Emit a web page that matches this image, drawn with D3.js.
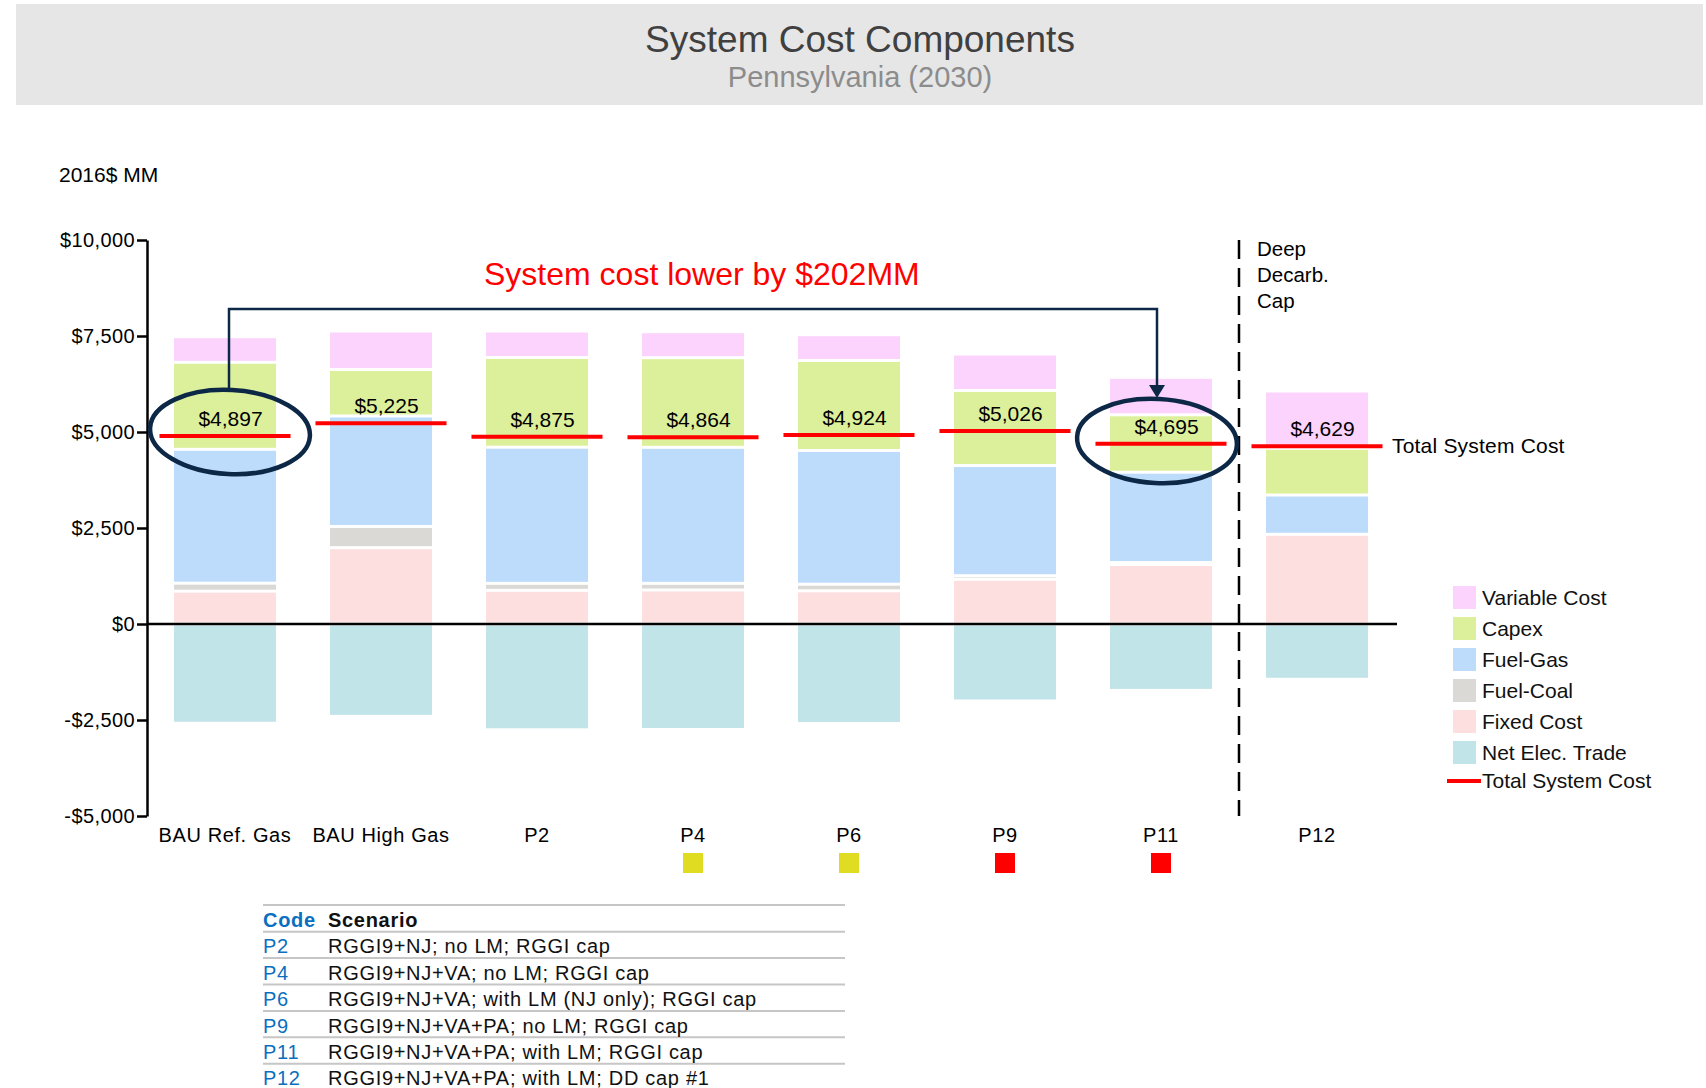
<!DOCTYPE html>
<html>
<head>
<meta charset="utf-8">
<script src="https://cdn.jsdelivr.net/npm/d3@7"></script>
<style>
  body { margin: 0; overflow: hidden; background: #fff; }
  svg { display: block; font-family: "Liberation Sans", Arial, sans-serif; }
</style>
</head>
<body>
<div id="chart"></div>
<script>
// Data (2016$ MM)
var categories = ["BAU Ref. Gas", "BAU High Gas", "P2", "P4", "P6", "P9", "P11", "P12"];
var fixedCost = [855, 1987, 877, 885, 864, 1164, 1550, 2336];
var fuelCoal = [208, 552, 182, 174, 173, 94, 50, 0];
var fuelGas = [3486, 2878, 3545, 3542, 3481, 2870, 2353, 1023];
var capex = [2266, 1211, 2336, 2334, 2344, 1953, 1495, 1216];
var variableCost = [667, 1002, 690, 677, 672, 950, 976, 1493];
var netElecTrade = [-2585, -2405, -2755, -2748, -2590, -2005, -1729, -1439];
var totalCost = [4897, 5225, 4875, 4864, 4924, 5026, 4695, 4629];
var yTicks = [-5000, -2500, 0, 2500, 5000, 7500, 10000];

// small markers under some scenarios
var markerCats = ["P4", "P6", "P9", "P11"];
var markerKinds = ["partial", "partial", "full", "full"];

// scenario table
var codes = ["P2", "P4", "P6", "P9", "P11", "P12"];
var scenarios = [
    "RGGI9+NJ; no LM; RGGI cap",
    "RGGI9+NJ+VA; no LM; RGGI cap",
    "RGGI9+NJ+VA; with LM (NJ only); RGGI cap",
    "RGGI9+NJ+VA+PA; no LM; RGGI cap",
    "RGGI9+NJ+VA+PA; with LM; RGGI cap",
    "RGGI9+NJ+VA+PA; with LM; DD cap #1"
];

var keys = ["fixed", "coal", "gas", "capex", "variable", "trade"];
var legendKeys = ["variable", "capex", "gas", "coal", "fixed", "trade"];
var legendNames = ["Variable Cost", "Capex", "Fuel-Gas", "Fuel-Coal", "Fixed Cost", "Net Elec. Trade"];
var colors = {
    variable: "#fcd3fc",
    capex: "#dcf09b",
    gas: "#bddcfc",
    coal: "#dad9d5",
    fixed: "#fddfdf",
    trade: "#c0e4e8"
};
var markerColor = { partial: "#e0dc22", full: "#ff0000" };
var navy = "#0d2847";

var rows = categories.map((c, i) => ({
    cat: c,
    fixed: fixedCost[i],
    coal: fuelCoal[i],
    gas: fuelGas[i],
    capex: capex[i],
    variable: variableCost[i],
    trade: netElecTrade[i]
}));

var svg = d3.select("#chart").append("svg")
    .attr("width", 1706)
    .attr("height", 1088);

// Header band
svg.append("rect")
    .attr("x", 16).attr("y", 4)
    .attr("width", 1687).attr("height", 101)
    .attr("fill", "#e6e6e6");
svg.append("text")
    .attr("x", 860).attr("y", 52)
    .attr("text-anchor", "middle")
    .attr("font-size", 37)
    .attr("fill", "#404040")
    .text("System Cost Components");
svg.append("text")
    .attr("x", 860).attr("y", 87)
    .attr("text-anchor", "middle")
    .attr("font-size", 29)
    .attr("fill", "#8c8c8c")
    .text("Pennsylvania (2030)");

// Scales
var x = d3.scaleBand()
    .domain(categories)
    .range([147, 1395])
    .paddingInner(0.346)
    .paddingOuter(0.173);
var y = d3.scaleLinear()
    .domain([-5000, 10000])
    .range([816, 240]);

var series = d3.stack()
    .keys(keys)
    .offset(d3.stackOffsetDiverging)(rows);

// Stacked bars, 3px white gap between segments
svg.append("g")
    .selectAll("g")
    .data(series)
    .enter().append("g")
    .attr("fill", s => colors[s.key])
    .selectAll("rect")
    .data(s => s)
    .enter().append("rect")
    .attr("x", d => x(d.data.cat))
    .attr("width", x.bandwidth())
    .attr("y", d => y(d[1]) + 1.5)
    .attr("height", d => Math.max(0, y(d[0]) - y(d[1]) - 3));

// Y axis
var money = d3.format(",");
var yAxis = d3.axisLeft(y)
    .tickValues(yTicks)
    .tickSize(10)
    .tickSizeOuter(0)
    .tickPadding(2)
    .tickFormat(v => (v < 0 ? "-$" : "$") + money(Math.abs(v)));
var ax = svg.append("g")
    .attr("transform", "translate(147,0)")
    .call(yAxis);
ax.selectAll("path, line").attr("stroke", "#000").attr("stroke-width", 2.5);
ax.selectAll("text")
    .attr("font-size", 20)
    .attr("letter-spacing", 0.4)
    .attr("fill", "#000")
    .attr("font-family", "Liberation Sans, Arial, sans-serif");

svg.append("text")
    .attr("x", 59).attr("y", 182)
    .attr("font-size", 21)
    .text("2016$ MM");

// zero line
svg.append("line")
    .attr("x1", 147).attr("x2", 1397)
    .attr("y1", y(0)).attr("y2", y(0))
    .attr("stroke", "#000")
    .attr("stroke-width", 2.5);

// Category labels
svg.append("g")
    .selectAll("text")
    .data(categories)
    .enter().append("text")
    .attr("x", d => x(d) + x.bandwidth() / 2)
    .attr("y", 842)
    .attr("text-anchor", "middle")
    .attr("font-size", 20)
    .attr("letter-spacing", 0.6)
    .text(d => d);

// Markers below categories
svg.append("g")
    .selectAll("rect")
    .data(markerCats)
    .enter().append("rect")
    .attr("x", d => x(d) + x.bandwidth() / 2 - 10)
    .attr("y", 853)
    .attr("width", 20)
    .attr("height", 20)
    .attr("fill", (d, i) => markerColor[markerKinds[i]]);

// Deep decarb separator
var sepX = (x("P11") + x.bandwidth() + x("P12")) / 2;
svg.append("line")
    .attr("x1", sepX).attr("x2", sepX)
    .attr("y1", 240).attr("y2", 816)
    .attr("stroke", "#000")
    .attr("stroke-width", 2.5)
    .attr("stroke-dasharray", "19,9");
svg.append("text")
    .attr("x", sepX + 18).attr("y", 256)
    .attr("font-size", 20.5)
    .selectAll("tspan")
    .data(["Deep", "Decarb.", "Cap"])
    .enter().append("tspan")
    .attr("x", sepX + 18)
    .attr("dy", (d, i) => i ? 26 : 0)
    .text(d => d);

// Total system cost lines + labels
var totals = svg.append("g");
totals.selectAll("line")
    .data(totalCost)
    .enter().append("line")
    .attr("x1", (d, i) => x(categories[i]) - 14.5)
    .attr("x2", (d, i) => x(categories[i]) + x.bandwidth() + 14.5)
    .attr("y1", d => y(d))
    .attr("y2", d => y(d))
    .attr("stroke", "#ff0000")
    .attr("stroke-width", 4);
totals.selectAll("text")
    .data(totalCost)
    .enter().append("text")
    .attr("x", (d, i) => x(categories[i]) + x.bandwidth() / 2 + 5.5)
    .attr("y", d => y(d) - 10)
    .attr("text-anchor", "middle")
    .attr("font-size", 21)
    .text(d => "$" + money(d));

var lastCat = categories[categories.length - 1];
svg.append("text")
    .attr("x", x(lastCat) + x.bandwidth() + 24)
    .attr("y", y(totalCost[totalCost.length - 1]) + 7)
    .attr("font-size", 21)
    .attr("letter-spacing", 0.2)
    .text("Total System Cost");

// Annotation: connector, arrow, circles
var c0 = x(categories[0]) + x.bandwidth() / 2 + 4;
var c6 = x("P11") + x.bandwidth() / 2 - 4;
svg.append("path")
    .attr("d", "M" + c0 + "," + 390 + "V309H" + c6 + "V386")
    .attr("fill", "none")
    .attr("stroke", navy)
    .attr("stroke-width", 2.5);
svg.append("path")
    .attr("d", "M" + (c6 - 8) + ",385L" + (c6 + 8) + ",385L" + c6 + ",398Z")
    .attr("fill", navy);

svg.append("ellipse")
    .attr("cx", 230).attr("cy", 432)
    .attr("rx", 80).attr("ry", 42)
    .attr("transform", "rotate(3,230,432)")
    .attr("fill", "none")
    .attr("stroke", navy)
    .attr("stroke-width", 4.5);
svg.append("ellipse")
    .attr("cx", 1157).attr("cy", 441)
    .attr("rx", 80).attr("ry", 42)
    .attr("transform", "rotate(3,1157,441)")
    .attr("fill", "none")
    .attr("stroke", navy)
    .attr("stroke-width", 4.5);

svg.append("text")
    .attr("x", 484).attr("y", 285)
    .attr("font-size", 32)
    .attr("fill", "#ff0000")
    .text("System cost lower by $202MM");

// Legend
var legend = svg.append("g");
var lg = legend.selectAll("g")
    .data(legendKeys)
    .enter().append("g")
    .attr("transform", (d, i) => "translate(1453," + (586 + i * 31) + ")");
lg.append("rect")
    .attr("width", 23).attr("height", 23)
    .attr("fill", d => colors[d]);
lg.append("text")
    .attr("x", 29).attr("y", 19)
    .attr("font-size", 21)
    .attr("fill", "#111")
    .text((d, i) => legendNames[i]);
legend.append("line")
    .attr("x1", 1447).attr("x2", 1481)
    .attr("y1", 781).attr("y2", 781)
    .attr("stroke", "#ff0000")
    .attr("stroke-width", 4);
legend.append("text")
    .attr("x", 1482).attr("y", 788)
    .attr("font-size", 21)
    .attr("fill", "#111")
    .text("Total System Cost");

// Scenario table
var table = svg.append("g").attr("font-size", 20).attr("letter-spacing", 0.7);
var rowStep = 26.4;
var rules = [905].concat(d3.range(codes.length + 1).map(i => 931.7 + i * rowStep));
table.selectAll("line")
    .data(rules)
    .enter().append("line")
    .attr("x1", 263).attr("x2", 845)
    .attr("y1", d => d).attr("y2", d => d)
    .attr("stroke", "#c6c6c6")
    .attr("stroke-width", 2);
table.append("text")
    .attr("x", 263).attr("y", 927)
    .attr("font-weight", "bold")
    .attr("fill", "#0b6fc0")
    .text("Code");
table.append("text")
    .attr("x", 328).attr("y", 927)
    .attr("font-weight", "bold")
    .attr("fill", "#111")
    .text("Scenario");
table.selectAll(".code")
    .data(codes)
    .enter().append("text")
    .attr("class", "code")
    .attr("x", 263)
    .attr("y", (d, i) => 953.3 + i * rowStep)
    .attr("fill", "#0b6fc0")
    .text(d => d);
table.selectAll(".scen")
    .data(scenarios)
    .enter().append("text")
    .attr("class", "scen")
    .attr("x", 328)
    .attr("y", (d, i) => 953.3 + i * rowStep)
    .attr("fill", "#111")
    .text(d => d);
</script>
</body>
</html>
